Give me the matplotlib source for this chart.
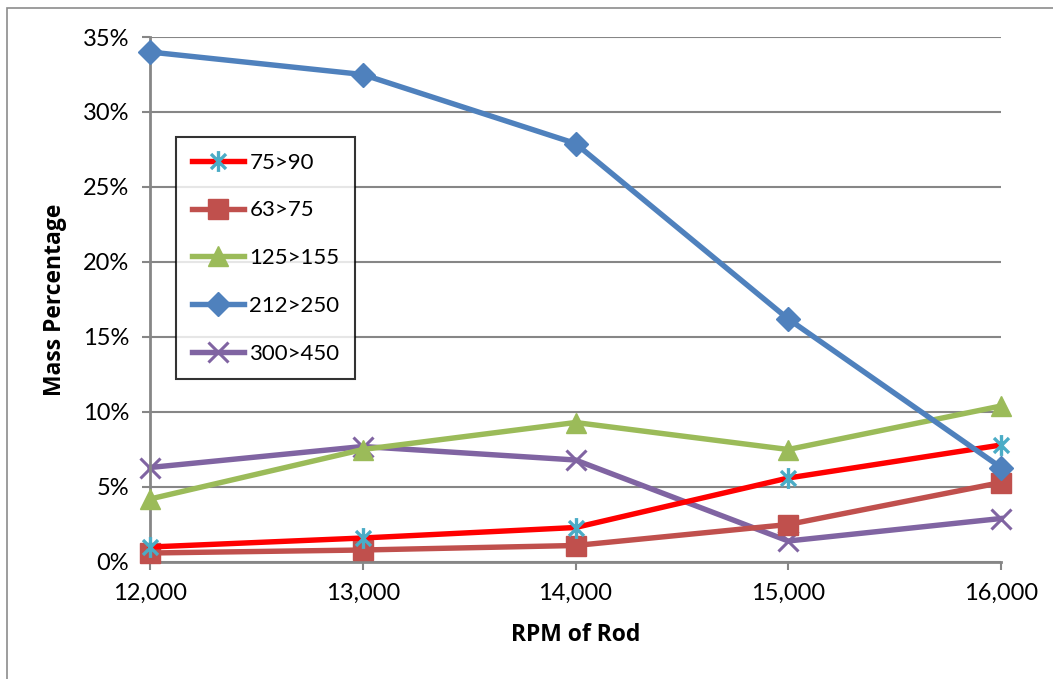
import matplotlib
matplotlib.use("Agg")
import matplotlib.pyplot as plt
from matplotlib.path import Path
from matplotlib.patches import Rectangle
from matplotlib.ticker import FuncFormatter

plt.rcParams['font.family'] = ['Lato', 'DejaVu Sans']

rpm = [12000, 13000, 14000, 15000, 16000]
s_75_90 = [1.0, 1.6, 2.3, 5.6, 7.8]
s_63_75 = [0.6, 0.8, 1.1, 2.5, 5.3]
s_125_155 = [4.2, 7.5, 9.3, 7.5, 10.4]
s_212_250 = [34.0, 32.5, 27.9, 16.2, 6.3]
s_300_450 = [6.3, 7.7, 6.8, 1.4, 2.9]

y_ticks = [0, 5, 10, 15, 20, 25, 30, 35]

# six-armed star marker: vertical bar plus a diagonal cross
star = Path(
    [(0, -1), (0, 1), (-0.72, -0.72), (0.72, 0.72), (-0.72, 0.72), (0.72, -0.72)],
    [Path.MOVETO, Path.LINETO, Path.MOVETO, Path.LINETO, Path.MOVETO, Path.LINETO],
)

fig = plt.figure(figsize=(10.53, 6.79), dpi=100)
ax = fig.add_axes([150 / 1053, 1 - 562 / 679, 851 / 1053, 525 / 679])

grid_c = '#868686'
lw = 3.9
fs = 17
bold_font = ['Open Sans', 'DejaVu Sans']

ax.plot(rpm, s_75_90, color='#FF0000', lw=lw, marker=star, ms=15,
        mec='#4BACC6', mew=2.4, label='75>90', clip_on=False, zorder=5)
ax.plot(rpm, s_63_75, color='#C0504D', lw=lw, marker='s', ms=14,
        mfc='#C0504D', mec='#C0504D', label='63>75', clip_on=False, zorder=4)
ax.plot(rpm, s_125_155, color='#9BBB59', lw=lw, marker='^', ms=15,
        mfc='#9BBB59', mec='#9BBB59', label='125>155', clip_on=False, zorder=3)
ax.plot(rpm, s_212_250, color='#4F81BD', lw=lw, marker='D', ms=12,
        mfc='#4F81BD', mec='#4F81BD', label='212>250', clip_on=False, zorder=6)
ax.plot(rpm, s_300_450, color='#8064A2', lw=lw, marker='x', ms=14,
        mec='#8064A2', mew=2.2, label='300>450', clip_on=False, zorder=2)

ax.set_xlim(12000, 16000)
ax.set_ylim(0, 35)
ax.set_xticks(rpm)
ax.set_yticks(y_ticks)
ax.xaxis.set_major_formatter(FuncFormatter(lambda v, p: f'{int(v):,}'))
ax.yaxis.set_major_formatter(FuncFormatter(lambda v, p: f'{int(v)}%'))

ax.grid(axis='y', color=grid_c, lw=1.5)
ax.set_axisbelow(True)
for side in ('top', 'right'):
    ax.spines[side].set_visible(False)
for side in ('left', 'bottom'):
    ax.spines[side].set_color(grid_c)
    ax.spines[side].set_linewidth(2)
ax.tick_params(axis='both', direction='out', length=6, width=1.5, color=grid_c,
               labelsize=fs, labelcolor='black')
ax.tick_params(axis='y', pad=9)
ax.tick_params(axis='x', pad=9)

ax.set_xlabel('RPM of Rod', fontsize=16.5, fontweight='bold', family=bold_font,
              labelpad=14)
ax.set_ylabel('Mass Percentage', fontsize=16.5, fontweight='bold', family=bold_font,
              labelpad=11)

leg = ax.legend(loc='upper left', bbox_to_anchor=(26 / 851, (562 - 137) / 525),
                borderaxespad=0, fontsize=16, handlelength=2.35, handletextpad=0.25,
                labelspacing=1.25, borderpad=0.7, fancybox=False, frameon=True)
leg.get_frame().set_edgecolor('black')
leg.get_frame().set_linewidth(1.5)

# outer chart frame
fig.patches.append(Rectangle((7 / 1053, -0.1), 1.2, 1 - 8 / 679 + 0.1,
                             transform=fig.transFigure, fill=False,
                             edgecolor='#8C8C8C', lw=1.2))

fig.savefig('out.png', dpi=100)
